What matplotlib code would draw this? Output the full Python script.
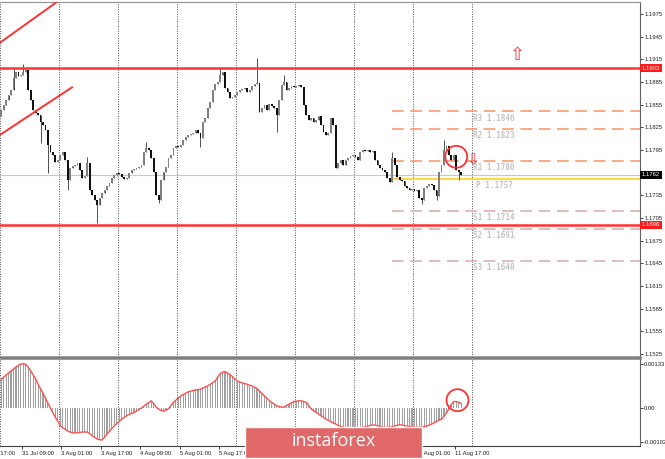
import numpy as np
import matplotlib.pyplot as plt
from matplotlib.patches import Rectangle
from matplotlib.transforms import blended_transform_factory

# EURUSD H1 closes, one per bar
closes = [
    1.1848, 1.1855, 1.1861, 1.1868, 1.1874, 1.1890, 1.1898, 1.1893, 1.1894, 1.1898,
    1.1901, 1.1874, 1.1861, 1.1848, 1.1844, 1.1841, 1.1832, 1.1828, 1.1822, 1.1802,
    1.1792, 1.1788, 1.1779, 1.1782, 1.1788, 1.1792, 1.1782, 1.1755, 1.1771, 1.1774,
    1.1775, 1.1778, 1.1769, 1.1758, 1.1761, 1.1778, 1.1742, 1.1736, 1.1729, 1.1722,
    1.1732, 1.1738, 1.1742, 1.1747, 1.1751, 1.1758, 1.1762, 1.1765, 1.1763, 1.1759,
    1.1757, 1.1758, 1.1765, 1.1769, 1.1770, 1.1771, 1.1773, 1.1775, 1.1792, 1.1798,
    1.1795, 1.1784, 1.1766, 1.1736, 1.1729, 1.1755, 1.1766, 1.1773, 1.1784, 1.1788,
    1.1798, 1.1800, 1.1799, 1.1802, 1.1808, 1.1812, 1.1815, 1.1816, 1.1818, 1.1822,
    1.1818, 1.1811, 1.1832, 1.1837, 1.1851, 1.1859, 1.1874, 1.1882, 1.1885, 1.1894,
    1.1898, 1.1877, 1.1872, 1.1864, 1.1865, 1.1868, 1.1872, 1.1874, 1.1876, 1.1877,
    1.1872, 1.1874, 1.1880, 1.1882, 1.1884, 1.1845, 1.1851, 1.1855, 1.1848, 1.1856,
    1.1853, 1.1851, 1.1841, 1.1861, 1.1881, 1.1885, 1.1874, 1.1877, 1.1880, 1.1878,
    1.1880, 1.1881, 1.1878, 1.1855, 1.1841, 1.1835, 1.1837, 1.1832, 1.1835, 1.1840,
    1.1828, 1.1819, 1.1815, 1.1818, 1.1837, 1.1828, 1.1771, 1.1778, 1.1782, 1.1775,
    1.1782, 1.1784, 1.1787, 1.1788, 1.1786, 1.1782, 1.1792, 1.1795, 1.1794, 1.1795,
    1.1792, 1.1794, 1.1782, 1.1775, 1.1771, 1.1769, 1.1766, 1.1758, 1.1753, 1.1784,
    1.1775, 1.1759, 1.1755, 1.1754, 1.1747, 1.1745, 1.1742, 1.1743, 1.1741, 1.1742,
    1.1732, 1.1729, 1.1745, 1.1747, 1.1750, 1.1749, 1.1742, 1.1734, 1.1766, 1.1775,
    1.1795, 1.1800, 1.1788, 1.1782, 1.1788, 1.1769, 1.1766, 1.1762,
]
first_open = 1.1840
# wicks that stick out past the bodies (bar -> price)
wick_high = {5: 1.1905, 9: 1.1909, 35: 1.1786, 59: 1.1806, 89: 1.1905,
             104: 1.1917, 115: 1.1894, 159: 1.1792, 180: 1.1808}
wick_low = {16: 1.1804, 19: 1.1765, 27: 1.1742, 39: 1.1698, 64: 1.1725,
            81: 1.1799, 112: 1.1819, 171: 1.1724, 177: 1.1729, 186: 1.1755}

# MACD histogram, in units of 1e-5
macd = [
    87, 93, 100, 106, 112, 118, 124, 129, 133, 134,
    132, 123, 112, 100, 88, 72, 58, 45, 30, 15,
    0, -14, -27, -40, -53, -59, -64, -69, -72, -74,
    -75, -74, -73, -72, -72, -72, -77, -83, -88, -93,
    -95, -96, -88, -78, -70, -61, -53, -46, -40, -33,
    -28, -23, -19, -16, -13, -9, -4, 0, 6, 12,
    17, 22, 14, 3, -3, -7, -9, -6, -2, 8,
    17, 24, 31, 37, 41, 45, 49, 51, 53, 55,
    56, 57, 61, 64, 67, 72, 77, 82, 93, 104,
    108, 110, 106, 101, 95, 88, 82, 79, 76, 74,
    72, 69, 67, 63, 59, 52, 44, 37, 30, 23,
    17, 12, 7, 5, 3, 3, 8, 12, 16, 20,
    21, 22, 22, 20, 17, 8, -2, -8, -13, -18,
    -23, -28, -33, -37, -41, -45, -48, -52, -55, -57,
    -59, -60, -61, -62, -62, -61, -60, -58, -56, -54,
    -52, -51, -51, -53, -56, -57, -58, -58, -57, -56,
    -54, -52, -50, -51, -53, -54, -55, -56, -57, -58,
    -58, -58, -56, -54, -51, -48, -44, -40, -36, -33,
    -25, -15, -2, 12, 20, 20, 18, 14,
]

resistance = 1.1903
support = 1.1696
last_price = 1.1762
piv_names = ['R3', 'R2', 'R1', 'P', 'S1', 'S2', 'S3']
piv_values = [1.1846, 1.1823, 1.1780, 1.1757, 1.1714, 1.1691, 1.1648]
piv_start = 158.9

trend_upper = ([-0.5, 23.5], [1.1937, 1.1993])
trend_lower = ([-0.5, 28.8], [1.1815, 1.1878])

price_ticks = [1.1525, 1.1555, 1.1585, 1.1615, 1.1645, 1.1675, 1.1705, 1.1735,
               1.1765, 1.1795, 1.1825, 1.1855, 1.1885, 1.1915, 1.1945, 1.1975]
osc_ticks = [0.00133, 0.0, -0.00102]
osc_labels = ['0.00133', '0.00', '-0.00102']
time_bars = [-7.5 + 16 * k for k in range(13)]
time_labels = ['30 Jul 17:00', '31 Jul 09:00', '3 Aug 01:00', '3 Aug 17:00', '4 Aug 09:00',
               '5 Aug 01:00', '5 Aug 17:00', '6 Aug 09:00', '7 Aug 01:00', '7 Aug 17:00',
               '10 Aug 09:00', '11 Aug 01:00', '11 Aug 17:00']
grid_bars = [-0.5 + 24 * k for k in range(9)]

W, H = 665, 459
RED = '#ff3232'


def box(x0, y0, x1, y1):
    return [x0 / W, 1 - y1 / H, (x1 - x0) / W, (y1 - y0) / H]


fig = plt.figure(figsize=(W / 100, H / 100), dpi=100)
fig.patch.set_facecolor('white')
ax = fig.add_axes(box(0, 2, 640, 357))
osc = fig.add_axes(box(0, 358, 640, 446))
xlim = (-0.49, 259.7)

# candles
n = len(closes)
idx = np.arange(n)
c = np.array(closes)
o = np.r_[first_open, c[:-1]]
hi = np.maximum(o, c)
lo = np.minimum(o, c)
for i, v in wick_high.items():
    hi[i] = max(hi[i], v)
for i, v in wick_low.items():
    lo[i] = min(lo[i], v)
up = c >= o
ax.vlines(idx, lo, hi, color='#505050', lw=0.7, zorder=3)
ax.bar(idx, np.maximum(np.abs(c - o), 0.00004), bottom=np.minimum(o, c), width=0.72,
       color=np.where(up, '#808080', '#101010'), lw=0, zorder=3)

# levels
ax.axhline(last_price, color='#c8c8c8', lw=0.8, zorder=2)
ax.axhline(resistance, color=RED, lw=1.8, zorder=4)
ax.axhline(support, color=RED, lw=1.8, zorder=4)
ax.plot(*trend_upper, color=RED, lw=1.4, zorder=4)
ax.plot(*trend_lower, color=RED, lw=1.4, zorder=4)

for name, v in zip(piv_names, piv_values):
    if name == 'P':
        ax.hlines(v, piv_start, xlim[1], color='#ffd21f', lw=1.2, zorder=2)
        tx = 193.0
    else:
        col = '#ff9a70' if name.startswith('R') else '#dcb0b0'
        ax.hlines(v, piv_start, xlim[1], color=col, lw=1.2, linestyles=(0, (7, 4)), zorder=2)
        tx = 191.8
    ax.annotate(f'{name} {v:.4f}', (tx, v), xytext=(0, -1.5), textcoords='offset points',
                va='top', ha='left', fontsize=5.5, family='DejaVu Sans Mono',
                fontweight='bold', color='#c4c4c4')

# signal marks
ax.text(209.7, 1.1921, '\u21e7', color=RED, fontsize=13, ha='center', va='center')
ax.text(191.8, 1.1782, '\u21e9', color=RED, fontsize=11, ha='center', va='center')
ax.scatter([185], [1.1786], s=250, facecolors='none', edgecolors=RED, linewidths=1.3, zorder=6)

# oscillator
mv = np.array(macd) * 1e-5
osc.bar(idx, mv, width=0.45, color='#a0a0a0', lw=0)
osc.plot(idx, mv, color='#ff5050', lw=1)
osc.scatter([185.5], [0.00024], s=250, facecolors='none', edgecolors=RED, linewidths=1.3,
            zorder=6)

for a in (ax, osc):
    for g in grid_bars:
        a.axvline(g, color='#505050', lw=0.7, ls=(0, (1, 1.5)), zorder=1)
    a.yaxis.tick_right()
    a.tick_params(axis='y', length=2, width=0.6, pad=1, labelsize=4.2, colors='#202020')
    a.spines['left'].set_visible(False)
    a.spines['right'].set_color('#606060')

ax.set_ylim(1.1521, 1.19909)
ax.set_yticks(price_ticks, [f'{t:.4f}' for t in price_ticks])
ax.set_xticks([])
ax.spines['top'].set_color('#909090')
ax.spines['top'].set_linewidth(0.8)
ax.spines['bottom'].set_color('#808080')
ax.spines['bottom'].set_linewidth(1.8)

osc.set_ylim(-0.00114, 0.00151)
osc.set_yticks(osc_ticks, osc_labels)
osc.spines['top'].set_color('#808080')
osc.spines['top'].set_linewidth(1.8)
osc.spines['bottom'].set_color('#404040')
osc.set_xticks(time_bars[1:], time_labels[1:])
osc.tick_params(axis='x', length=2, width=0.6, pad=1.5, labelsize=4.2, colors='#202020')
for lbl in osc.get_xticklabels():
    lbl.set_ha('left')
for lbl in ax.get_yticklabels() + osc.get_yticklabels() + osc.get_xticklabels():
    lbl.set_family('Liberation Sans')
# first time label sits left of the window, only its tail shows
osc.annotate(time_labels[0], xy=(time_bars[0], 0), xycoords=('data', 'axes fraction'),
             xytext=(0, -3.5), textcoords='offset points', va='top', ha='left',
             fontsize=4.2, family='Liberation Sans', color='#202020', annotation_clip=False)

# limits last, set_xticks widens them
ax.set_xlim(*xlim)
osc.set_xlim(*xlim)

# price boxes on the right scale
tr = blended_transform_factory(ax.transAxes, ax.transData)
for v, bg in ((resistance, '#ff1a1a'), (last_price, '#000000'), (support, '#ff1a1a')):
    ax.text(1.003, v, f'{v:.4f}', transform=tr, va='center', ha='left', fontsize=4.2,
            family='Liberation Sans', color='white', zorder=10, clip_on=False,
            bbox=dict(boxstyle='square,pad=0.25', fc=bg, ec='none'))

# watermark
fig.add_artist(Rectangle((245 / W, 1 - 458 / H), 177 / W, 31 / H, transform=fig.transFigure,
                         fc='#e06868', ec='white', lw=1, zorder=20))
fig.text(333.5 / W, 1 - 441 / H, 'instaforex', color='white', fontsize=13,
         family='Open Sans', ha='center', va='center', zorder=21)

fig.savefig('out.png', dpi=100, facecolor='white')
